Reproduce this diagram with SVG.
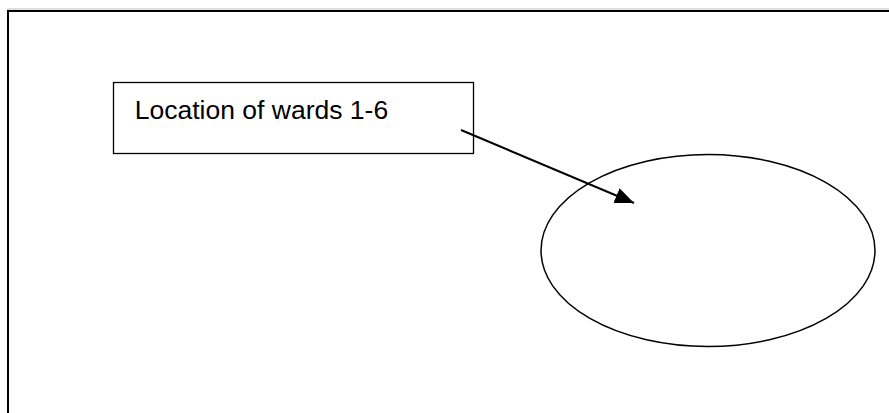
<svg xmlns="http://www.w3.org/2000/svg" width="889" height="413" viewBox="0 0 889 413">
  <defs>
    <style>
      .frame { fill: none; stroke: #000; stroke-width: 2; }
      .box { fill: #fff; stroke: #000; stroke-width: 1.3; }
      .label { font-family: "Liberation Sans", Arial, sans-serif; font-size: 26.5px; fill: #000; }
      .conn { fill: none; stroke: #000; stroke-width: 2; }
      .shape { fill: none; stroke: #000; stroke-width: 1.5; }
    </style>
    <marker id="arrow" markerUnits="userSpaceOnUse" markerWidth="20" markerHeight="16" refX="19" refY="8" orient="auto">
      <path d="M0,0 L19,8 L0,16 Z" fill="#000"/>
    </marker>
  </defs>
  <rect width="889" height="413" fill="#fff"/>
  <line x1="7" y1="9" x2="889" y2="9" stroke="#bbb" stroke-width="1"/>
  <path class="frame" d="M8,413 L8,11 L889,11"/>
  <g id="label-box">
    <rect class="box" x="113.5" y="82.5" width="360" height="71"/>
    <text class="label" x="134.8" y="118.5">Location of wards 1-6</text>
  </g>
  <g id="ward-area">
    <ellipse class="shape" cx="708" cy="250.5" rx="167" ry="96"/>
  </g>
  <g id="connectors">
    <line class="conn" x1="461" y1="130" x2="634" y2="203" marker-end="url(#arrow)"/>
  </g>
</svg>
